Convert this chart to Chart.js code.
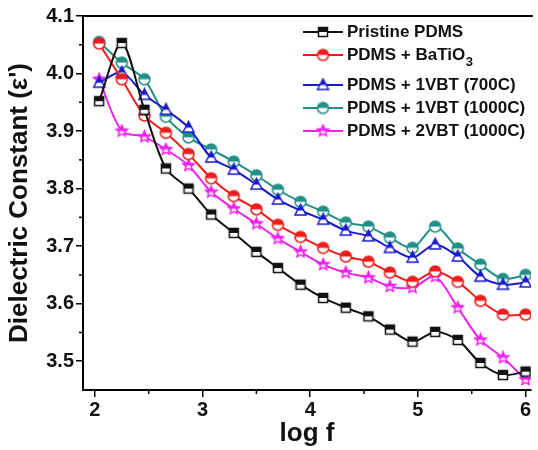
<!DOCTYPE html>
<html><head><meta charset="utf-8">
<script src="https://cdn.jsdelivr.net/npm/chart.js@4"></script>
<style>html,body{margin:0;padding:0;background:#fff}#wrap{width:538px;height:450px}</style>
</head><body><div id="wrap"><canvas id="c" width="538" height="450"></canvas></div>
<script>
const logF     = [2.04,2.25,2.46,2.66,2.87,3.08,3.29,3.50,3.70,3.91,4.12,4.33,4.54,4.74,4.95,5.16,5.37,5.58,5.79,6.00];
const pristine = [3.952,4.053,3.937,3.835,3.800,3.755,3.723,3.690,3.662,3.633,3.610,3.593,3.578,3.555,3.534,3.551,3.537,3.497,3.476,3.482];
const batio3   = [4.052,3.990,3.927,3.897,3.860,3.818,3.787,3.764,3.737,3.716,3.697,3.682,3.673,3.654,3.638,3.656,3.638,3.605,3.581,3.581];
const vbt700   = [3.984,4.002,3.963,3.937,3.906,3.854,3.833,3.807,3.781,3.762,3.746,3.727,3.717,3.697,3.680,3.703,3.682,3.647,3.633,3.637];
const vbt1000  = [4.055,4.019,3.990,3.925,3.889,3.868,3.847,3.823,3.798,3.777,3.760,3.741,3.734,3.715,3.697,3.734,3.696,3.668,3.643,3.650];
const vbt2     = [3.990,3.900,3.890,3.868,3.840,3.794,3.765,3.739,3.713,3.690,3.668,3.654,3.645,3.630,3.628,3.647,3.593,3.537,3.506,3.468];
const seriesLabels = ['Pristine PDMS','PDMS + BaTiO\u2083','PDMS + 1VBT (700C)','PDMS + 1VBT (1000C)','PDMS + 2VBT (1000C)'];
const xTicks = [2,3,4,5,6];
const xMinor = [2.5,3.5,4.5,5.5];
const yTicks = [3.5,3.6,3.7,3.8,3.9,4.0,4.1];
const yMinor = [3.55,3.65,3.75,3.85,3.95,4.05];

const FONT = '"Liberation Sans", Arial, sans-serif';
const colors = ['#111111','#ee1c1c','#1a1acc','#229086','#ee22ee'];
const shapes = ['square','circle','triangle','circle','star'];

function makeMarker(shape, color, size) {
  const s = size + 4;
  const c = document.createElement('canvas');
  c.width = s; c.height = s;
  const ctx = c.getContext('2d');
  const cx = s/2, cy = s/2, r = size/2;
  function path() {
    ctx.beginPath();
    if (shape === 'square') ctx.rect(cx-r+0.5, cy-r+0.5, 2*r-1, 2*r-1);
    else if (shape === 'circle') ctx.arc(cx, cy, r, 0, Math.PI*2);
    else if (shape === 'triangle') { ctx.moveTo(cx, cy-r*1.1); ctx.lineTo(cx+r, cy+r*0.8); ctx.lineTo(cx-r, cy+r*0.8); ctx.closePath(); }
    else { for (let k=0;k<10;k++){ const a=-Math.PI/2+k*Math.PI/5; const rr=(k%2)?r*0.5:r*1.08; ctx.lineTo(cx+rr*Math.cos(a), cy+rr*Math.sin(a)); } ctx.closePath(); }
  }
  path(); ctx.fillStyle = '#fff'; ctx.fill();
  ctx.save(); path(); ctx.clip(); ctx.fillStyle = color; ctx.fillRect(0,0,s,cy); ctx.restore();
  path(); ctx.lineWidth = 1.5; ctx.strokeStyle = color; ctx.stroke();
  return c;
}
const markers = shapes.map((sh,i)=>makeMarker(sh, colors[i], sh==='square'?10:11));

const allSeries = [pristine, batio3, vbt700, vbt1000, vbt2];
const datasets = allSeries.map((arr,i)=>({
  label: seriesLabels[i],
  data: logF.map((x,j)=>({x:x, y:arr[j]})),
  borderColor: colors[i],
  backgroundColor: colors[i],
  borderWidth: 2,
  pointStyle: markers[i],
  pointRadius: 5,
  tension: 0.3,
  fill: false
}));

const framePlugin = {
  id: 'frame',
  afterDraw(chart) {
    const {ctx, chartArea: a, scales} = chart;
    ctx.save();
    ctx.strokeStyle = '#000';
    ctx.lineWidth = 2;
    ctx.beginPath(); ctx.moveTo(a.left-1, a.top); ctx.lineTo(a.right+2, a.top); ctx.stroke();
    ctx.lineWidth = 1.5;
    yMinor.forEach(v=>{ const y = scales.y.getPixelForValue(v); ctx.beginPath(); ctx.moveTo(a.left-4, y); ctx.lineTo(a.left, y); ctx.stroke(); });
    xMinor.forEach(v=>{ const x = scales.x.getPixelForValue(v); ctx.beginPath(); ctx.moveTo(x, a.bottom); ctx.lineTo(x, a.bottom+4); ctx.stroke(); });
    ctx.restore();
  }
};

const legendPlugin = {
  id: 'insideLegend',
  afterDatasetsDraw(chart) {
    const ctx = chart.ctx;
    const rows = [32, 55, 85, 108, 131];
    ctx.save();
    chart.data.datasets.forEach((ds,i)=>{
      const y = rows[i];
      ctx.strokeStyle = ds.borderColor; ctx.lineWidth = 2;
      ctx.beginPath(); ctx.moveTo(303, y); ctx.lineTo(343, y); ctx.stroke();
      const m = ds.pointStyle;
      ctx.drawImage(m, 323 - m.width/2, y - m.height/2);
      ctx.fillStyle = '#111';
      ctx.textBaseline = 'middle';
      ctx.textAlign = 'left';
      ctx.font = 'bold 17px ' + FONT;
      let label = ds.label;
      if (label.endsWith('\u2083')) {
        const base = label.slice(0, -1);
        ctx.fillText(base, 347, y);
        const w = ctx.measureText(base).width;
        ctx.font = 'bold 13px ' + FONT;
        ctx.fillText('3', 347 + w + 0.5, y + 7);
      } else {
        ctx.fillText(label, 347, y);
      }
    });
    ctx.restore();
  }
};

new Chart(document.getElementById('c'), {
  type: 'line',
  data: { datasets },
  options: {
    responsive: false,
    devicePixelRatio: 1,
    animation: false,
    layout: { padding: { top: 16, right: 1, left: 0, bottom: 0 } },
    plugins: { legend: { display: false }, tooltip: { enabled: false } },
    scales: {
      x: {
        type: 'linear', min: 1.89, max: 6.05,
        afterBuildTicks: s => { s.ticks = xTicks.map(v=>({value:v})); },
        afterFit: s => { s.height = 60; },
        grid: { drawOnChartArea: false, drawTicks: true, tickLength: 7, color: '#000', lineWidth: 1.5 },
        border: { display: true, color: '#000', width: 2 },
        ticks: { color: '#111', font: { family: FONT, size: 20, weight: 'bold' }, padding: 1, maxRotation: 0, autoSkip: false, callback: v => String(v) },
        title: { display: true, text: 'log f', color: '#111', font: { family: FONT, size: 26, weight: 'bold' }, padding: { top: 0, bottom: 1 } }
      },
      y: {
        type: 'linear', min: 3.45, max: 4.1,
        afterBuildTicks: s => { s.ticks = yTicks.map(v=>({value:v})); },
        afterFit: s => { s.width = 83; },
        grid: { drawOnChartArea: false, drawTicks: true, tickLength: 7, color: '#000', lineWidth: 1.5 },
        border: { display: true, color: '#000', width: 2 },
        ticks: { color: '#111', font: { family: FONT, size: 20, weight: 'bold' }, padding: 2, autoSkip: false, callback: v => v.toFixed(1) },
        title: { display: true, text: "Dielectric Constant (\u03b5')", color: '#111', font: { family: FONT, size: 26, weight: 'bold' }, padding: { top: 4, bottom: 0 } }
      }
    }
  },
  plugins: [framePlugin, legendPlugin]
});
</script>
</body></html>
